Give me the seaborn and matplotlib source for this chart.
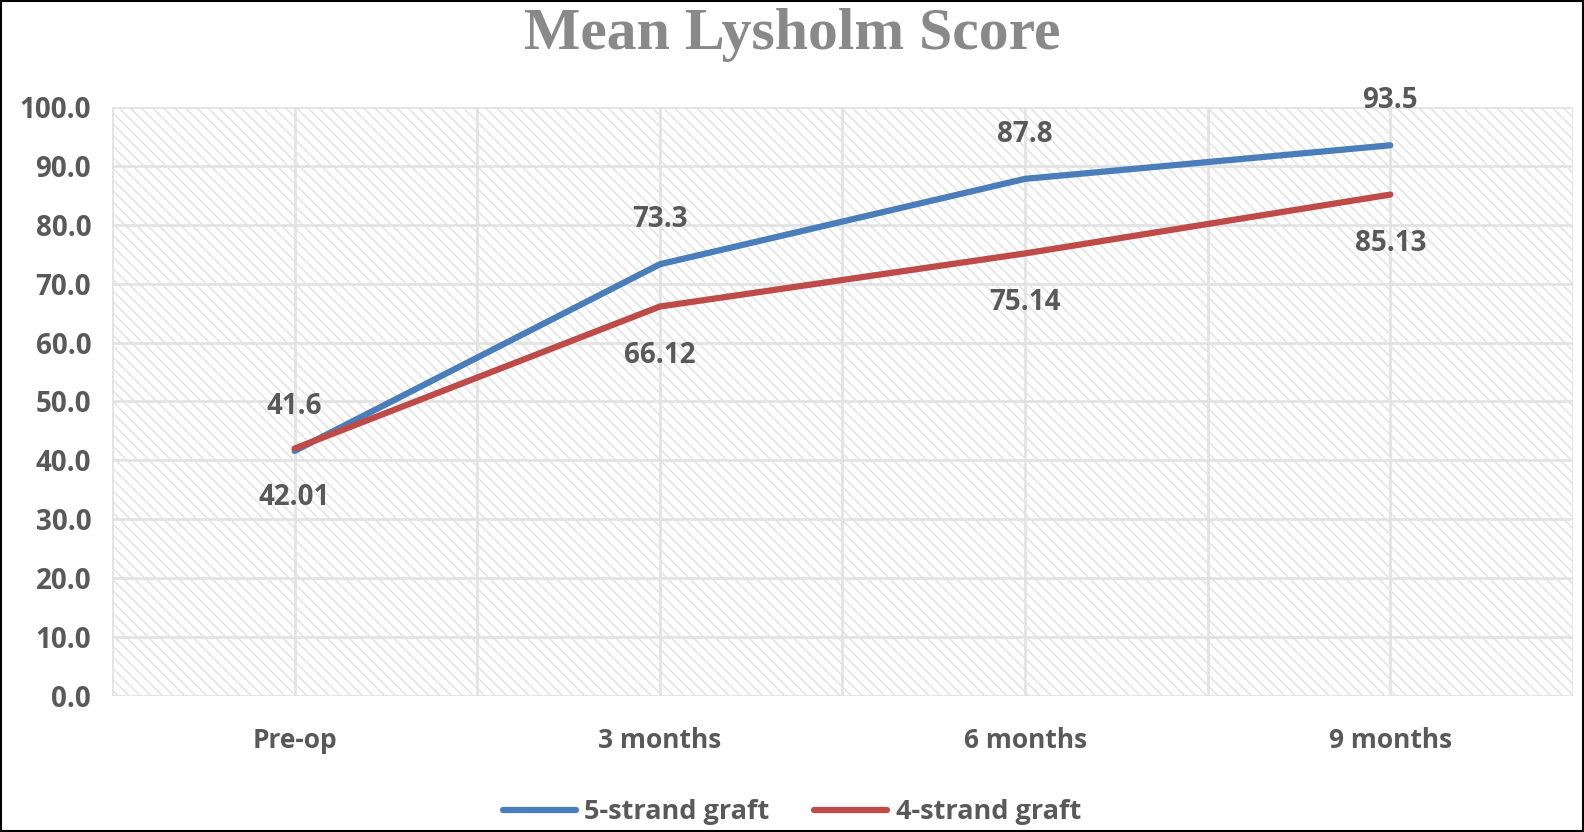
import numpy as np
import pandas as pd
import matplotlib.pyplot as plt
import seaborn as sns
from matplotlib.patches import Rectangle

# data
timepoints = ['Pre-op', '3 months', '6 months', '9 months']
five_strand = [41.6, 73.3, 87.8, 93.5]
four_strand = [42.01, 66.12, 75.14, 85.13]
five_labels = ['41.6', '73.3', '87.8', '93.5']
four_labels = ['42.01', '66.12', '75.14', '85.13']
y_ticks = [0, 10, 20, 30, 40, 50, 60, 70, 80, 90, 100]

df = pd.DataFrame({
    'time': timepoints * 2,
    'x': list(range(len(timepoints))) * 2,
    'score': five_strand + four_strand,
    'group': ['5-strand graft'] * 4 + ['4-strand graft'] * 4,
})

sns.set_style('white')
plt.rcParams['font.family'] = ['Open Sans', 'DejaVu Sans']
plt.rcParams['hatch.linewidth'] = 1.0
plt.rcParams['hatch.color'] = '#e0e0e0'

text_grey = '#595959'
blue = '#4a7ebb'
red = '#be4b48'

fig = plt.figure(figsize=(15.84, 8.32), dpi=100)
ax = fig.add_axes([0.0707, 0.1635, 0.9223, 0.7079])

# hatched plot area
ax.patch.set_facecolor('white')
ax.add_patch(Rectangle((0, 0), 1, 1, transform=ax.transAxes, facecolor='white',
                       edgecolor='#e0e0e0', hatch='\\\\\\', linewidth=0, zorder=0))

sns.lineplot(data=df, x='x', y='score', hue='group',
             palette={'5-strand graft': blue, '4-strand graft': red},
             linewidth=4.5, ax=ax, legend=True, zorder=3)
for line in ax.lines:
    line.set_solid_capstyle('round')

ax.set_xlim(-0.5, 3.5)
ax.set_ylim(0, 100)
ax.set_yticks(y_ticks)
ax.set_yticklabels([f'{v:.1f}' for v in y_ticks])
ax.set_xticks(range(len(timepoints)))
ax.set_xticklabels(timepoints)
ax.tick_params(axis='both', length=0, labelsize=19, labelcolor=text_grey)
ax.tick_params(axis='y', labelsize=20)
ax.tick_params(axis='x', pad=22)
ax.tick_params(axis='y', pad=15)
for lab in ax.get_xticklabels() + ax.get_yticklabels():
    lab.set_fontweight('bold')
ax.set_xlabel('')
ax.set_ylabel('')

# gridlines
for y in y_ticks:
    ax.axhline(y, color='#e3e3e3', linewidth=2, zorder=1)
for x in np.arange(-0.5, 3.6, 0.5):
    ax.axvline(x, color='#e3e3e3', linewidth=2, zorder=1)
for s in ax.spines.values():
    s.set_visible(False)

# data labels
for i in range(len(timepoints)):
    ax.annotate(five_labels[i], (i, five_strand[i]), xytext=(0, 32),
                textcoords='offset points', ha='center', va='center',
                fontsize=20, fontweight='bold', color=text_grey, zorder=5)
    ax.annotate(four_labels[i], (i, four_strand[i]), xytext=(0, -35),
                textcoords='offset points', ha='center', va='center',
                fontsize=20, fontweight='bold', color=text_grey, zorder=5)

fig.suptitle('Mean Lysholm Score', x=0.5, y=0.99, fontsize=43, fontweight='bold',
             color='#898989', family=['Liberation Serif', 'DejaVu Serif'])

handles, labels = ax.get_legend_handles_labels()
ax.legend(handles, labels, loc='center', bbox_to_anchor=(0.5, 0.024),
          bbox_transform=fig.transFigure, ncol=2, frameon=False,
          prop={'size': 19.5, 'weight': 'bold'}, labelcolor=text_grey,
          handlelength=2.7, handletextpad=0.3, columnspacing=1.65)

# outer border
fig.patches.append(Rectangle((0.0008, 0.001), 0.9984, 0.998, transform=fig.transFigure,
                             fill=False, edgecolor='black', linewidth=1.5))

fig.savefig('out.png', dpi=100)
